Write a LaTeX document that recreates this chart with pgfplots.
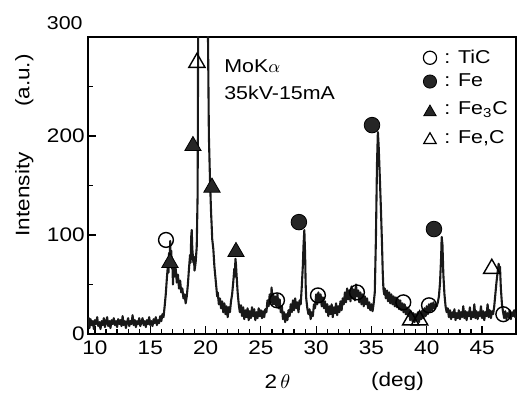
\documentclass[border=0pt]{standalone}
\usepackage{pgfplots}
\pgfplotsset{compat=1.18}
\usepackage{fontspec}
\setmainfont{Liberation Sans}[FakeStretch=1.15]
\begin{document}
\begin{tikzpicture}
\useasboundingbox (-44pt,-30pt) rectangle (214.5pt,167pt);
\begin{axis}[
  scale only axis, width=214pt, height=148.5pt,
  xmin=9.37, xmax=48.07, ymin=0, ymax=300,
  xtick={10,15,...,45}, minor x tick num=4,
  ytick={0,100,200,300}, yticklabels={0,100,200,{}}, minor y tick num=1,
  tick align=inside, xtick pos=bottom, ytick pos=left,
  major tick length=4pt, minor tick length=2.5pt,
  axis line style={line width=0.9pt},
  every tick/.style={line width=0.6pt, black},
  tick label style={font=\fontsize{9.8}{11}\selectfont},
  yticklabel style={inner xsep=1.5pt},
  /pgf/number format/assume math mode=true,
  clip mode=individual,
]
\addplot[black!90, line width=1.05pt, line join=round] coordinates {
(9.40,11)(9.45,16)(9.50,6)(9.60,15)(9.70,9)(9.80,13)(9.90,5)(10.00,14)(10.10,10)(10.20,17)(10.30,8)
(10.40,12)(10.50,5)(10.60,13)(10.70,9)(10.80,16)(10.90,7)(11.00,12)(11.10,17)(11.20,8)(11.30,13)
(11.40,6)(11.50,14)(11.60,10)(11.70,16)(11.80,9)(11.90,13)(12.00,7)(12.10,15)(12.20,10)(12.30,14)
(12.40,8)(12.50,18)(12.60,9)(12.70,13)(12.80,6)(12.90,12)(13.00,16)(13.10,8)(13.20,13)(13.30,10)
(13.40,19)(13.50,9)(13.60,14)(13.70,7)(13.80,13)(13.90,10)(14.00,16)(14.10,8)(14.20,12)(14.30,16)
(14.40,9)(14.50,13)(14.60,7)(14.70,14)(14.80,10)(14.90,17)(15.00,9)(15.10,13)(15.20,8)(15.30,15)
(15.40,11)(15.50,17)(15.60,9)(15.70,14)(15.80,11)(15.90,18)(16.00,13)(16.10,20)(16.20,17)(16.30,28)
(16.40,40)(16.50,56)(16.60,70)(16.65,62)(16.70,82)(16.75,72)(16.80,94)(16.85,74)(16.90,84)(16.95,66)
(17.00,76)(17.05,50)(17.10,70)(17.20,58)(17.30,66)(17.40,52)(17.50,60)(17.60,46)(17.70,54)(17.80,42)
(17.90,46)(18.00,36)(18.10,40)(18.20,31)(18.30,38)(18.40,50)(18.50,66)(18.60,80)(18.65,72)(18.70,98)
(18.75,105)(18.80,86)(18.90,72)(18.95,78)(19.00,64)(19.10,72)(19.20,88)(19.28,140)(19.33,300)(19.35,340)
(19.75,2000)(20.18,330)(20.22,300)(20.30,200)(20.40,156)(20.50,122)(20.55,110)(20.60,96)(20.70,86)(20.80,68)
(20.90,56)(21.00,44)(21.05,38)(21.10,42)(21.20,30)(21.30,36)(21.40,26)(21.50,33)(21.60,22)(21.70,31)
(21.80,20)(21.90,28)(22.00,17)(22.10,27)(22.20,22)(22.30,33)(22.40,40)(22.50,52)(22.60,66)(22.65,58)
(22.70,76)(22.75,70)(22.80,60)(22.90,42)(23.00,30)(23.10,22)(23.20,29)(23.30,18)(23.40,27)(23.50,15)
(23.60,24)(23.70,17)(23.80,26)(23.90,14)(24.00,23)(24.10,16)(24.20,27)(24.30,18)(24.40,25)(24.50,14)
(24.60,22)(24.70,16)(24.80,26)(24.90,18)(25.00,24)(25.10,16)(25.20,23)(25.30,17)(25.40,25)(25.50,22)
(25.60,34)(25.70,28)(25.80,40)(25.90,32)(25.97,47)(26.05,30)(26.10,41)(26.20,30)(26.30,38)(26.40,28)
(26.50,40)(26.60,26)(26.70,35)(26.80,22)(26.90,28)(27.00,15)(27.10,22)(27.20,12)(27.30,20)(27.40,14)
(27.50,24)(27.60,18)(27.70,30)(27.80,22)(27.90,34)(28.00,24)(28.10,36)(28.20,26)(28.30,32)(28.40,22)
(28.50,34)(28.60,30)(28.70,48)(28.80,70)(28.85,88)(28.93,105)(29.00,80)(29.05,50)(29.10,36)(29.20,26)
(29.30,20)(29.40,25)(29.50,15)(29.60,22)(29.70,18)(29.80,30)(29.90,26)(30.00,40)(30.10,30)(30.20,42)
(30.30,32)(30.40,40)(30.50,28)(30.60,37)(30.70,26)(30.80,33)(30.90,22)(31.00,30)(31.10,18)(31.20,28)
(31.30,20)(31.40,30)(31.50,17)(31.60,27)(31.70,21)(31.80,31)(31.90,19)(32.00,28)(32.10,22)(32.20,33)
(32.30,24)(32.40,36)(32.50,30)(32.60,42)(32.70,32)(32.80,46)(32.90,35)(33.00,44)(33.10,33)(33.20,48)
(33.30,36)(33.40,45)(33.50,34)(33.60,50)(33.70,38)(33.80,44)(33.90,32)(34.00,42)(34.10,30)(34.20,40)
(34.30,28)(34.40,38)(34.50,30)(34.60,36)(34.70,26)(34.80,32)(34.90,24)(35.00,30)(35.10,23)(35.20,31)
(35.30,42)(35.40,95)(35.50,172)(35.58,204)(35.65,190)(35.75,160)(35.85,128)(35.95,92)(36.02,62)(36.08,46)
(36.15,40)(36.20,46)(36.30,36)(36.40,44)(36.50,33)(36.60,42)(36.70,31)(36.80,40)(36.90,30)(37.00,38)
(37.10,28)(37.20,37)(37.30,27)(37.40,35)(37.50,25)(37.60,34)(37.70,24)(37.80,31)(37.90,22)(38.00,30)
(38.10,20)(38.20,27)(38.30,18)(38.40,25)(38.50,14)(38.60,22)(38.70,13)(38.80,21)(38.90,12)(39.00,20)
(39.10,14)(39.20,22)(39.30,12)(39.40,21)(39.50,15)(39.60,24)(39.70,16)(39.80,26)(39.90,18)(40.00,28)
(40.10,20)(40.20,30)(40.30,22)(40.40,31)(40.50,24)(40.60,32)(40.70,26)(40.80,30)(40.90,28)(41.00,32)
(41.10,38)(41.20,52)(41.30,78)(41.35,98)(41.42,90)(41.50,60)(41.60,40)(41.70,28)(41.80,22)(41.90,26)
(42.00,17)(42.10,24)(42.20,15)(42.30,22)(42.40,17)(42.50,25)(42.60,14)(42.70,21)(42.80,16)(42.90,24)
(43.00,15)(43.10,22)(43.20,17)(43.30,28)(43.40,16)(43.50,23)(43.60,14)(43.70,22)(43.80,18)(43.90,27)
(44.00,15)(44.10,22)(44.20,17)(44.30,30)(44.40,16)(44.50,23)(44.60,15)(44.70,22)(44.80,18)(44.90,28)
(45.00,16)(45.10,23)(45.20,14)(45.30,22)(45.40,18)(45.50,30)(45.60,17)(45.70,24)(45.80,16)(45.90,23)
(46.00,20)(46.10,28)(46.20,40)(46.30,52)(46.40,62)(46.50,71)(46.55,64)(46.62,68)(46.70,46)(46.80,30)
(46.90,22)(47.00,16)(47.10,23)(47.20,15)(47.30,21)(47.40,17)(47.50,24)(47.60,15)(47.70,22)(47.80,18)
(47.90,24)(48.00,17)(48.07,21)
};
% TiC (open circles)
\addplot[only marks, mark=o, mark size=3.7pt, mark options={line width=0.7pt, black}] coordinates {
(16.42,95)(26.46,34)(30.16,39)(33.69,42)(37.88,32)(40.2,29)(46.92,20)};
% Fe (filled circles)
\addplot[only marks, mark=*, mark size=3.9pt, mark options={black, fill=black!85}] coordinates {
(28.44,113)(35.05,211)(40.65,106)};
% Fe3C (filled triangles)
\addplot[only marks, mark=triangle*, mark size=4.7pt, mark options={black, fill=black!85}] coordinates {
(16.78,72)(18.86,190)(20.58,148)(22.75,83)};
% Fe,C (open triangles)
\addplot[only marks, mark=triangle, mark size=4.7pt, mark options={black, line width=0.7pt}] coordinates {
(19.22,274)(38.55,14)(39.35,14)(45.88,66)};
% legend symbols
\addplot[only marks, mark=o, mark size=3.3pt, mark options={line width=0.6pt, black}] coordinates {(40.29,279)};
\addplot[only marks, mark=*, mark size=3.3pt, mark options={black, fill=black!85}] coordinates {(40.29,255)};
\addplot[only marks, mark=triangle*, mark size=3.6pt, mark options={black, fill=black!85}] coordinates {(40.29,224)};
\addplot[only marks, mark=triangle, mark size=3.6pt, mark options={black, line width=0.6pt}] coordinates {(40.29,196)};
\begin{scope}[every node/.style={font=\fontsize{9.3}{11}\selectfont, inner sep=0pt, anchor=west}]
\node at (axis cs:41.55,280) {: TiC};
\node at (axis cs:41.55,256) {: Fe};
\node at (axis cs:41.55,227) {: Fe\textsubscript{3}C};
\node at (axis cs:41.55,198) {: Fe,C};
\node at (axis cs:21.66,270) {MoK$\alpha$};
\node at (axis cs:21.66,244) {35kV-15mA};
\end{scope}
\node[font=\fontsize{9.3}{11}\selectfont, inner sep=0pt, anchor=south east] at (rel axis cs:0,1) [xshift=-2.5pt, yshift=3.5pt] {300};
\node[font=\fontsize{9.8}{11}\selectfont, inner sep=0pt] at (axis cs:26.5,-48) {2\,$\theta$};
\node[font=\fontsize{9.8}{11}\selectfont, inner sep=0pt] at (axis cs:37.35,-48) {(deg)};
\node[font=\fontsize{9.8}{11}\selectfont, inner sep=0pt, rotate=90] at (axis cs:3.6,141) {Intensity};
\node[font=\fontsize{9.8}{11}\selectfont, inner sep=0pt, rotate=90] at (axis cs:3.6,256) {(a.u.)};
\end{axis}
\end{tikzpicture}
\end{document}
